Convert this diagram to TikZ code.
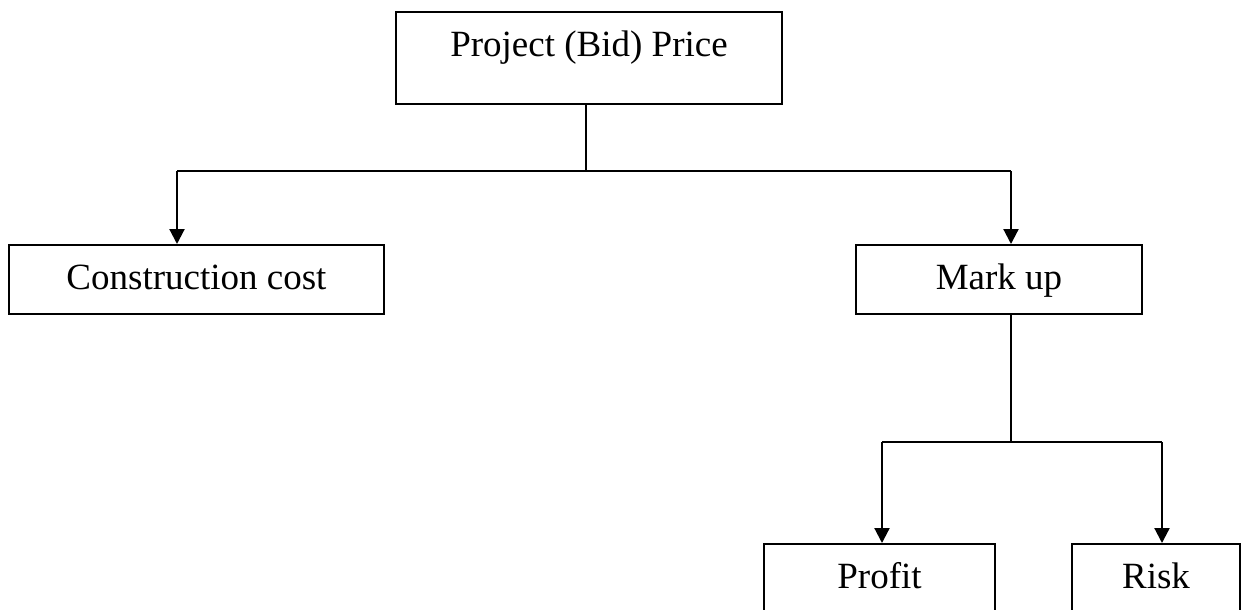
\documentclass[tikz,border=0pt]{standalone}
\usepackage{fontspec}
\setmainfont{Liberation Serif}
\usetikzlibrary{arrows.meta}

\tikzset{
  box/.style={draw, line width=2pt, rectangle, inner sep=0pt, anchor=north,
              font=\fontsize{37}{44}\selectfont},
  stem/.style={line width=1.2pt},
  bar/.style={line width=2.2pt},
  down/.style={line width=2.2pt, -{Triangle[length=15pt,width=15pt]}},
}

\begin{document}
\begin{tikzpicture}[x=1pt,y=-1pt]
  % page frame
  \clip (0,0) rectangle (1242,610);
  \fill[white] (0,0) rectangle (1242,610);

  % boxes (top edge at the anchor, text height/depth set the box height)
  \node[box, minimum width=386pt, text height=45pt, text depth=47pt] (price) at (589,11) {Project (Bid) Price};
  \node[box, minimum width=375pt, text height=44pt, text depth=25pt] (cost)  at (196.5,244) {Construction cost};
  \node[box, minimum width=286pt, text height=44pt, text depth=25pt] (mark)  at (999,244) {Mark up};
  \node[box, minimum width=231pt, text height=44pt, text depth=32pt] (profit) at (879.5,543) {Profit};
  \node[box, minimum width=168pt, text height=44pt, text depth=32pt] (risk)  at (1156,543) {Risk};

  % junction points
  \coordinate (j1) at (586,171);
  \coordinate (bl) at (177,171);
  \coordinate (br) at (1011,171);
  \coordinate (j2) at (1011,442);
  \coordinate (cl) at (882,442);
  \coordinate (cr) at (1162,442);

  % first level
  \draw[stem] (price.south -| j1) -- (j1);
  \draw[bar] (bl) -- (br);
  \draw[down] (bl) -- (bl |- cost.north);
  \draw[down] (br) -- (br |- mark.north);

  % second level
  \draw[stem] (mark.south -| j2) -- (j2);
  \draw[bar] (cl) -- (cr);
  \draw[down] (cl) -- (cl |- profit.north);
  \draw[down] (cr) -- (cr |- risk.north);
\end{tikzpicture}
\end{document}
